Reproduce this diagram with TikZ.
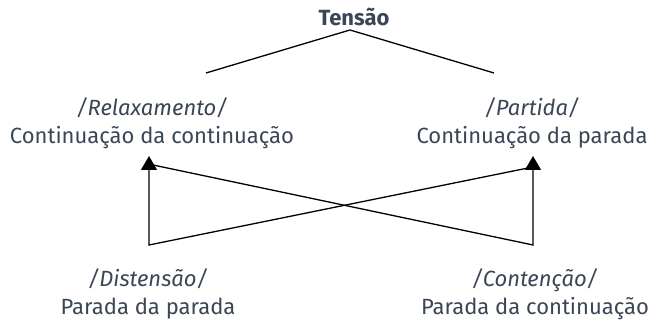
\documentclass[tikz,border=0pt]{standalone}
\usepackage{fontspec}
\setmainfont{Fira Sans}
\usepackage[HTML]{xcolor}
\usetikzlibrary{positioning, arrows.meta}
\definecolor{ink}{HTML}{3A4656}

\begin{document}
\begin{tikzpicture}[x=0.5pt,y=-0.5pt,
  lbl/.style={align=center,text=ink,font=\fontsize{11}{13.8}\selectfont,inner sep=0pt},
  up/.style={-{Triangle[width=8pt,length=7pt]},line width=0.65pt}]
\useasboundingbox (0,0) rectangle (649,324);

% --- top ---
\node[lbl,font=\fontsize{11}{14}\selectfont\bfseries] (tensao) at (354,17) {Tensão};
\coordinate (apex) at (350,30);
\coordinate (tl) at (206,73);
\coordinate (tr) at (494,73);
\draw[line width=0.65pt] (tl) -- (apex) -- (tr);

% --- middle row ---
\node[lbl] (relax) at (152,123) {\textit{/Relaxamento/}\\Continuação da continuação};
\node[lbl] (partida) at (532,123) {\textit{/Partida/}\\Continuação da parada};

% --- bottom row ---
\node[lbl] (disten) at (148,294) {\textit{/Distensão/}\\Parada da parada};
\node[lbl] (conten) at (535,294) {\textit{/Contenção/}\\Parada da continuação};

% --- crossed arrows ---
\coordinate (bl) at (149,245);
\coordinate (br) at (533,245);
\coordinate (al) at (149,156);
\coordinate (ar) at (533,156);
\coordinate (el) at (153,165);
\coordinate (er) at (533,167);
\draw[up] (er) -- (bl) -- (al);
\draw[up] (el) -- (br) -- (ar);
\end{tikzpicture}
\end{document}
